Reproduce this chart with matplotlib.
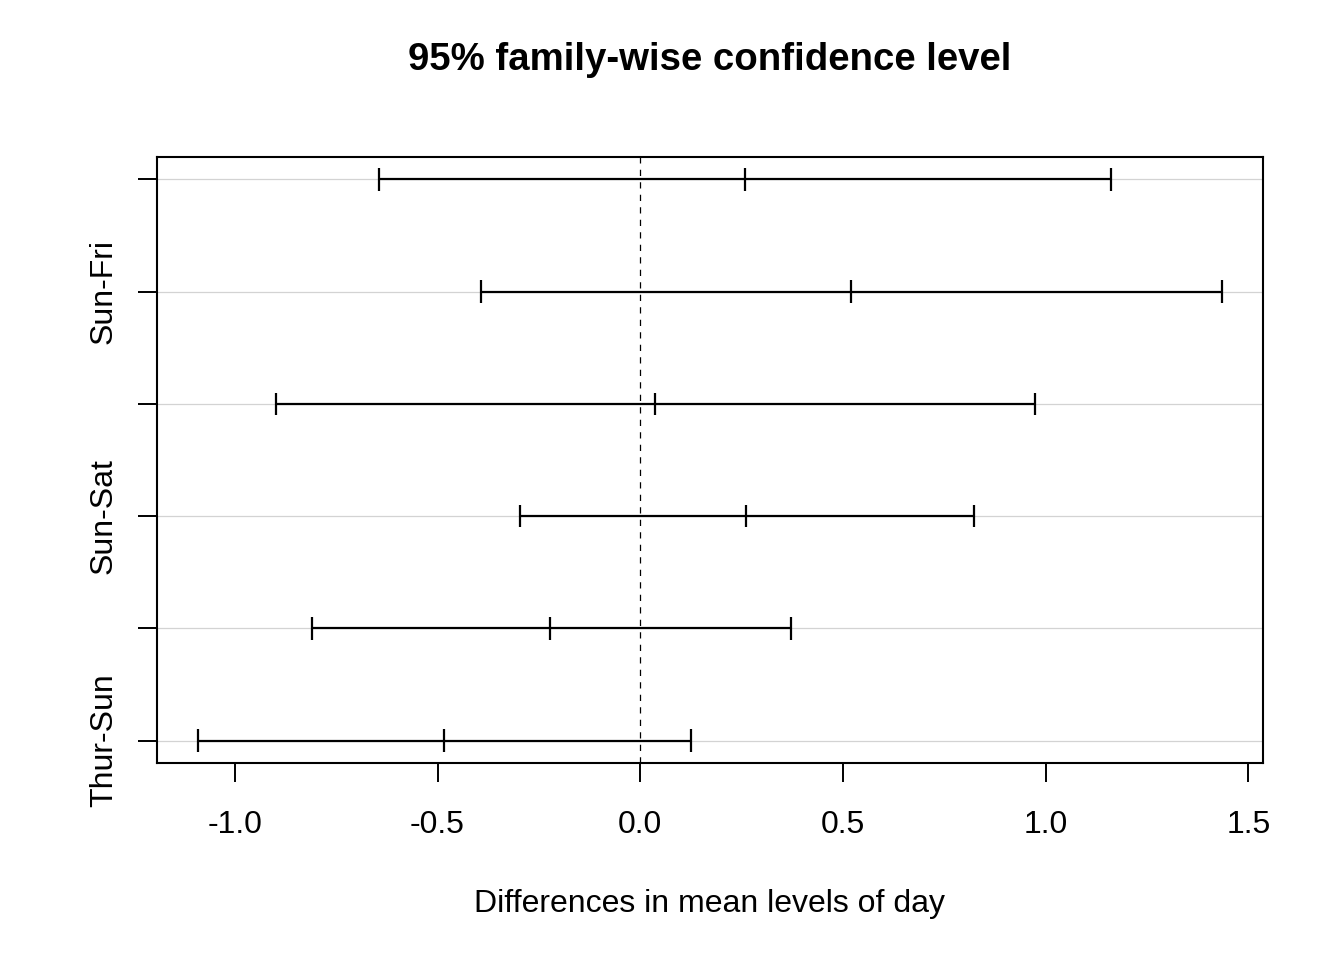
import matplotlib
matplotlib.use("Agg")
import matplotlib.pyplot as plt
import numpy as np

plt.rcParams['font.family'] = ['Liberation Sans', 'DejaVu Sans']

comparisons = ["Sat-Fri", "Sun-Fri", "Thur-Fri", "Sun-Sat", "Thur-Sat", "Thur-Sun"]
diff = [0.259, 0.520, 0.037, 0.262, -0.222, -0.484]
lwr = [-0.644, -0.393, -0.899, -0.296, -0.810, -1.091]
upr = [1.160, 1.435, 0.973, 0.822, 0.373, 0.126]
xticks = [-1.0, -0.5, 0.0, 0.5, 1.0, 1.5]
xtick_labels = ["-1.0", "-0.5", "0.0", "0.5", "1.0", "1.5"]
title = "95% family-wise confidence level"
xlabel = "Differences in mean levels of day"

W, H = 1344, 960
fig = plt.figure(figsize=(W / 100, H / 100), dpi=100)
ax = fig.add_axes([157 / W, 1 - 763 / H, (1263 - 157) / W, (763 - 157) / H])

n = len(comparisons)
ypos = np.arange(n, 0, -1)

# R-style 4% extension
xmin, xmax = min(lwr), max(upr)
r = xmax - xmin
ax.set_xlim(xmin - 0.04 * r, xmax + 0.04 * r)
ax.set_ylim(1 - 0.04 * (n - 1), n + 0.04 * (n - 1))

for y in ypos:
    ax.axhline(y, color="#d3d3d3", lw=0.9, zorder=0)
ax.axvline(0, color="black", lw=0.9, linestyle=(0, (5, 5)), zorder=1)

cap_half = 0.1
for y, lo, d, hi in zip(ypos, lwr, diff, upr):
    ax.plot([lo, hi], [y, y], color="black", lw=1.6, solid_capstyle="butt", zorder=2)
    for xv in (lo, d, hi):
        ax.plot([xv, xv], [y - cap_half, y + cap_half], color="black", lw=1.6,
                solid_capstyle="butt", zorder=2)

ax.set_xticks(xticks)
ax.set_xticklabels(xtick_labels, fontsize=23)
shown = [c if i % 2 == 1 else "" for i, c in enumerate(comparisons)]
ax.set_yticks(ypos)
ax.set_yticklabels(shown, fontsize=23, rotation=90, va="center")
ax.tick_params(axis="both", direction="out", length=13.5, width=1.4, color="black")
ax.tick_params(axis="x", pad=20)
ax.tick_params(axis="y", pad=14)
for s in ax.spines.values():
    s.set_linewidth(1.5)
    s.set_color("black")

fig.text(710 / W, 1 - 70 / H, title, ha="center", va="baseline", fontsize=27.6,
         fontweight="bold")
fig.text(710 / W, 1 - 912 / H, xlabel, ha="center", va="baseline", fontsize=23)

fig.savefig("out.png", dpi=100, facecolor="white")
